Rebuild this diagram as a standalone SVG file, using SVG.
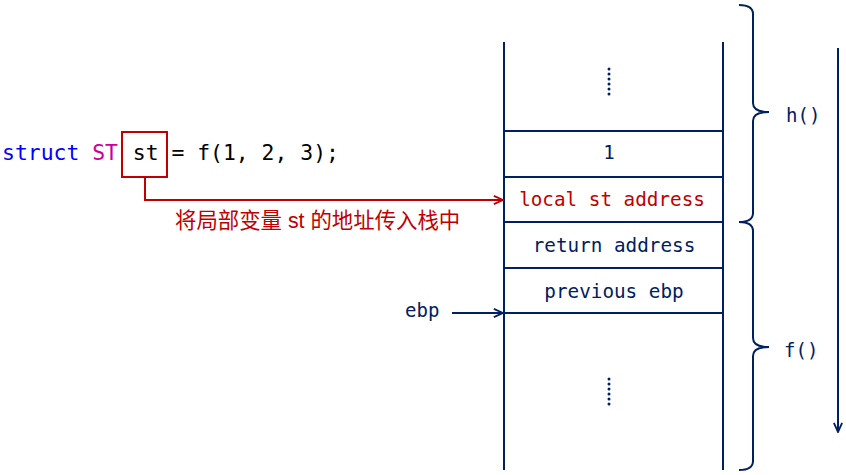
<svg xmlns="http://www.w3.org/2000/svg" width="846" height="475" viewBox="0 0 846 475">
<defs>
<style>
.mono{font-family:"DejaVu Sans Mono","Liberation Mono",monospace;}
.navy{fill:#002060;}
.ln{stroke:#002060;stroke-width:2;fill:none;}
.dot{fill:#002060;}
</style>
<marker id="arrN" viewBox="0 0 12 12" refX="11" refY="6" markerWidth="11" markerHeight="11" markerUnits="userSpaceOnUse" orient="auto">
<polyline points="1,1.5 11,6 1,10.5" fill="none" stroke="#002060" stroke-width="2"/>
</marker>
<marker id="arrR" viewBox="0 0 12 12" refX="11" refY="6" markerWidth="11" markerHeight="11" markerUnits="userSpaceOnUse" orient="auto">
<polyline points="1,1.5 11,6 1,10.5" fill="none" stroke="#c00000" stroke-width="2"/>
</marker>
</defs>
<rect width="846" height="475" fill="#fff"/>

<g id="code">
<text x="2" y="160" class="mono" font-size="21.4"><tspan fill="#0000ff">struct</tspan> <tspan fill="#cc0099">ST</tspan> <tspan fill="#000" dx="2">st</tspan><tspan fill="#000"> = f(1, 2, 3);</tspan></text>
<rect x="122" y="132" width="45" height="45" fill="none" stroke="#c00000" stroke-width="2"/>
</g>

<g id="stack">
<line x1="504" y1="42" x2="504" y2="470" class="ln"/>
<line x1="723" y1="42" x2="723" y2="470" class="ln"/>
<line x1="504" y1="131" x2="723" y2="131" class="ln"/>
<line x1="504" y1="177" x2="723" y2="177" class="ln"/>
<line x1="504" y1="222" x2="723" y2="222" class="ln"/>
<line x1="504" y1="268" x2="723" y2="268" class="ln"/>
<line x1="504" y1="313" x2="723" y2="313" class="ln"/>
<g class="dot">
<circle cx="609" cy="69" r="1.5"/><circle cx="609" cy="74" r="1.5"/><circle cx="609" cy="79" r="1.5"/><circle cx="609" cy="84" r="1.5"/><circle cx="609" cy="89" r="1.5"/><circle cx="609" cy="94" r="1.5"/>
<circle cx="609" cy="379" r="1.5"/><circle cx="609" cy="384" r="1.5"/><circle cx="609" cy="389" r="1.5"/><circle cx="609" cy="394" r="1.5"/><circle cx="609" cy="399" r="1.5"/><circle cx="609" cy="404" r="1.5"/>
</g>
<text x="609" y="159" class="mono navy" font-size="19" text-anchor="middle">1</text>
<text x="612" y="206" class="mono" fill="#c00000" font-size="19.3" text-anchor="middle">local st address</text>
<text x="614" y="252" class="mono navy" font-size="19.3" text-anchor="middle">return address</text>
<text x="614" y="298" class="mono navy" font-size="19.3" text-anchor="middle">previous ebp</text>
</g>

<g id="ebp">
<text x="405" y="317" class="mono navy" font-size="19">ebp</text>
</g>

<g id="h-brace">
<path d="M739,5 Q753,5 753,14 V103 Q753,112 769,112 Q753,112 753,121 V213 Q753,222 739,222" class="ln"/>
<text x="786" y="122" class="mono navy" font-size="19">h()</text>
</g>

<g id="f-brace">
<path d="M739,222 Q753,222 753,231 V338 Q753,347 769,347 Q753,347 753,356 V461 Q753,470 739,470" class="ln"/>
<text x="784" y="357" class="mono navy" font-size="19">f()</text>
</g>

<g id="connectors">
<polyline points="145,177 145,200 503,200" fill="none" stroke="#c00000" stroke-width="2" marker-end="url(#arrR)"/>
<text x="175" y="228" fill="#c00000" font-size="21.4" font-family="'Liberation Sans','Noto Sans CJK SC',sans-serif">将局部变量 st 的地址传入栈中</text>
<line x1="452" y1="313" x2="503" y2="313" class="ln" marker-end="url(#arrN)"/>
<line x1="838" y1="48" x2="838" y2="432" class="ln" marker-end="url(#arrN)"/>
</g>
</svg>
